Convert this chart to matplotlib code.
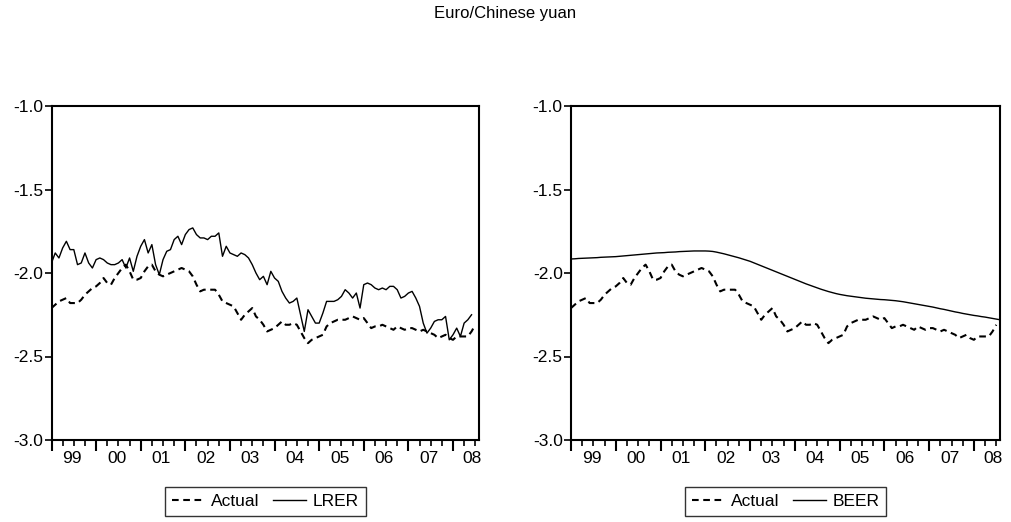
import numpy as np
import matplotlib
matplotlib.use('Agg')
import matplotlib.pyplot as plt
from matplotlib.ticker import FixedLocator, FormatStrFormatter, NullFormatter

plt.rcParams['font.family'] = ['Liberation Sans', 'DejaVu Sans']
plt.rcParams['axes.unicode_minus'] = False

# monthly log exchange rate, 1999M01 onward
actual = [
    -2.21, -2.19, -2.17, -2.16, -2.15, -2.18, -2.18, -2.18, -2.16, -2.13, -2.11, -2.09,
    -2.08, -2.06, -2.03, -2.06, -2.07, -2.03, -2.00, -1.97, -1.95, -1.99, -2.04, -2.04,
    -2.03, -1.99, -1.96, -1.95, -1.99, -2.01, -2.02, -2.01, -2.00, -1.99, -1.98, -1.97,
    -1.98, -1.99, -2.02, -2.07, -2.11, -2.10, -2.10, -2.10, -2.10, -2.13, -2.17, -2.18,
    -2.19, -2.20, -2.24, -2.28, -2.25, -2.23, -2.21, -2.26, -2.28, -2.31, -2.35, -2.34,
    -2.33, -2.31, -2.29, -2.31, -2.31, -2.30, -2.31, -2.35, -2.39, -2.42, -2.40, -2.39,
    -2.38, -2.37, -2.32, -2.30, -2.29, -2.28, -2.28, -2.28, -2.27, -2.26, -2.27, -2.28,
    -2.27, -2.30, -2.33, -2.32, -2.32, -2.31, -2.32, -2.33, -2.34, -2.32, -2.33, -2.34,
    -2.33, -2.33, -2.34, -2.35, -2.34, -2.35, -2.36, -2.37, -2.39, -2.38, -2.37, -2.39,
    -2.40, -2.38, -2.38, -2.38, -2.38, -2.35, -2.31,
]

lrer = [
    -1.94, -1.88, -1.91, -1.85, -1.81, -1.86, -1.86, -1.95, -1.94, -1.88, -1.94, -1.97,
    -1.92, -1.91, -1.92, -1.94, -1.95, -1.95, -1.94, -1.92, -1.97, -1.91, -1.99, -1.90,
    -1.84, -1.80, -1.88, -1.83, -1.95, -2.01, -1.92, -1.87, -1.86, -1.80, -1.78, -1.83,
    -1.77, -1.74, -1.73, -1.77, -1.79, -1.79, -1.80, -1.78, -1.78, -1.76, -1.90, -1.84,
    -1.88, -1.89, -1.90, -1.88, -1.89, -1.91, -1.95, -2.00, -2.04, -2.02, -2.07, -1.99,
    -2.03, -2.05, -2.11, -2.15, -2.18, -2.17, -2.15, -2.25, -2.35, -2.22, -2.26, -2.30,
    -2.30, -2.24, -2.17, -2.17, -2.17, -2.16, -2.14, -2.10, -2.12, -2.15, -2.12, -2.21,
    -2.07, -2.06, -2.07, -2.09, -2.10, -2.09, -2.10, -2.08, -2.08, -2.10, -2.15, -2.14,
    -2.12, -2.11, -2.15, -2.20, -2.30, -2.36, -2.33, -2.29, -2.28, -2.28, -2.26, -2.40,
    -2.37, -2.33, -2.38, -2.30, -2.28, -2.25,
]

beer = [
    -1.916, -1.915, -1.913, -1.912, -1.911, -1.910, -1.909, -1.908, -1.906, -1.905, -1.904, -1.903,
    -1.902, -1.900, -1.898, -1.896, -1.894, -1.892, -1.890, -1.888, -1.886, -1.884, -1.882, -1.880,
    -1.879, -1.878, -1.876, -1.875, -1.874, -1.872, -1.871, -1.870, -1.869, -1.868, -1.868, -1.868,
    -1.868, -1.869, -1.871, -1.875, -1.880, -1.885, -1.891, -1.897, -1.903, -1.909, -1.916, -1.923,
    -1.930, -1.939, -1.948, -1.957, -1.966, -1.975, -1.984, -1.993, -2.002, -2.011, -2.020, -2.029,
    -2.038, -2.047, -2.056, -2.065, -2.073, -2.081, -2.089, -2.097, -2.104, -2.111, -2.117, -2.123,
    -2.128, -2.132, -2.136, -2.139, -2.142, -2.145, -2.148, -2.151, -2.153, -2.155, -2.157, -2.159,
    -2.160, -2.162, -2.164, -2.166, -2.169, -2.172, -2.176, -2.180, -2.184, -2.188, -2.192, -2.196,
    -2.200, -2.204, -2.209, -2.214, -2.218, -2.223, -2.228, -2.233, -2.237, -2.242, -2.246, -2.250,
    -2.254, -2.257, -2.261, -2.264, -2.268, -2.272, -2.276, -2.280,
]

year_labels = ['99', '00', '01', '02', '03', '04', '05', '06', '07', '08']
y_ticks = [-3.0, -2.5, -2.0, -1.5, -1.0]

fig = plt.figure(figsize=(10.11, 5.22), dpi=100)
fig.text(0.5, 0.975, 'Euro/Chinese yuan', ha='center', va='center', fontsize=12)

axes_pos = [
    [51.5 / 1011, 1 - 440 / 522, 427.5 / 1011, 334 / 522],
    [571 / 1011, 1 - 440 / 522, 429 / 1011, 334 / 522],
]
series = [('LRER', lrer), ('BEER', beer)]

for pos, (name, other) in zip(axes_pos, series):
    ax = fig.add_axes(pos)
    ax.plot(np.arange(len(actual)), actual, color='black', lw=1.5,
            linestyle=(0, (3.2, 2.2)), label='Actual')
    ax.plot(np.arange(len(other)), other, color='black', lw=1.0, label=name)

    ax.set_xlim(0, 115)
    ax.set_ylim(-3.0, -1.0)

    # yearly major ticks, quarterly minor ticks, labels centred on each year
    ax.xaxis.set_major_locator(FixedLocator(np.arange(0, 116, 12)))
    ax.xaxis.set_minor_locator(FixedLocator(np.arange(0, 116, 3)))
    ax.xaxis.set_major_formatter(NullFormatter())
    ax.tick_params(axis='x', which='major', direction='out', length=8, width=1.5)
    ax.tick_params(axis='x', which='minor', direction='out', length=4, width=1.2)
    for i, lab in enumerate(year_labels):
        xc = i * 12 + 5.5 if i < 9 else 113
        ax.text(xc, -0.033, lab, transform=ax.get_xaxis_transform(),
                ha='center', va='top', fontsize=12.5)

    ax.yaxis.set_major_locator(FixedLocator(y_ticks))
    ax.yaxis.set_major_formatter(FormatStrFormatter('%.1f'))
    ax.tick_params(axis='y', direction='out', length=5, width=1.2, labelsize=12.5, pad=1)

    for sp in ax.spines.values():
        sp.set_linewidth(1.5)

    leg = ax.legend(loc='upper center', bbox_to_anchor=(0.5, -0.141), ncol=2,
                    frameon=True, fancybox=False, edgecolor='black', fontsize=12.5,
                    handlelength=1.9, handletextpad=0.35, columnspacing=0.8,
                    borderpad=0.4, borderaxespad=0)
    leg.get_frame().set_linewidth(1.0)

fig.savefig('out.png', dpi=100)
